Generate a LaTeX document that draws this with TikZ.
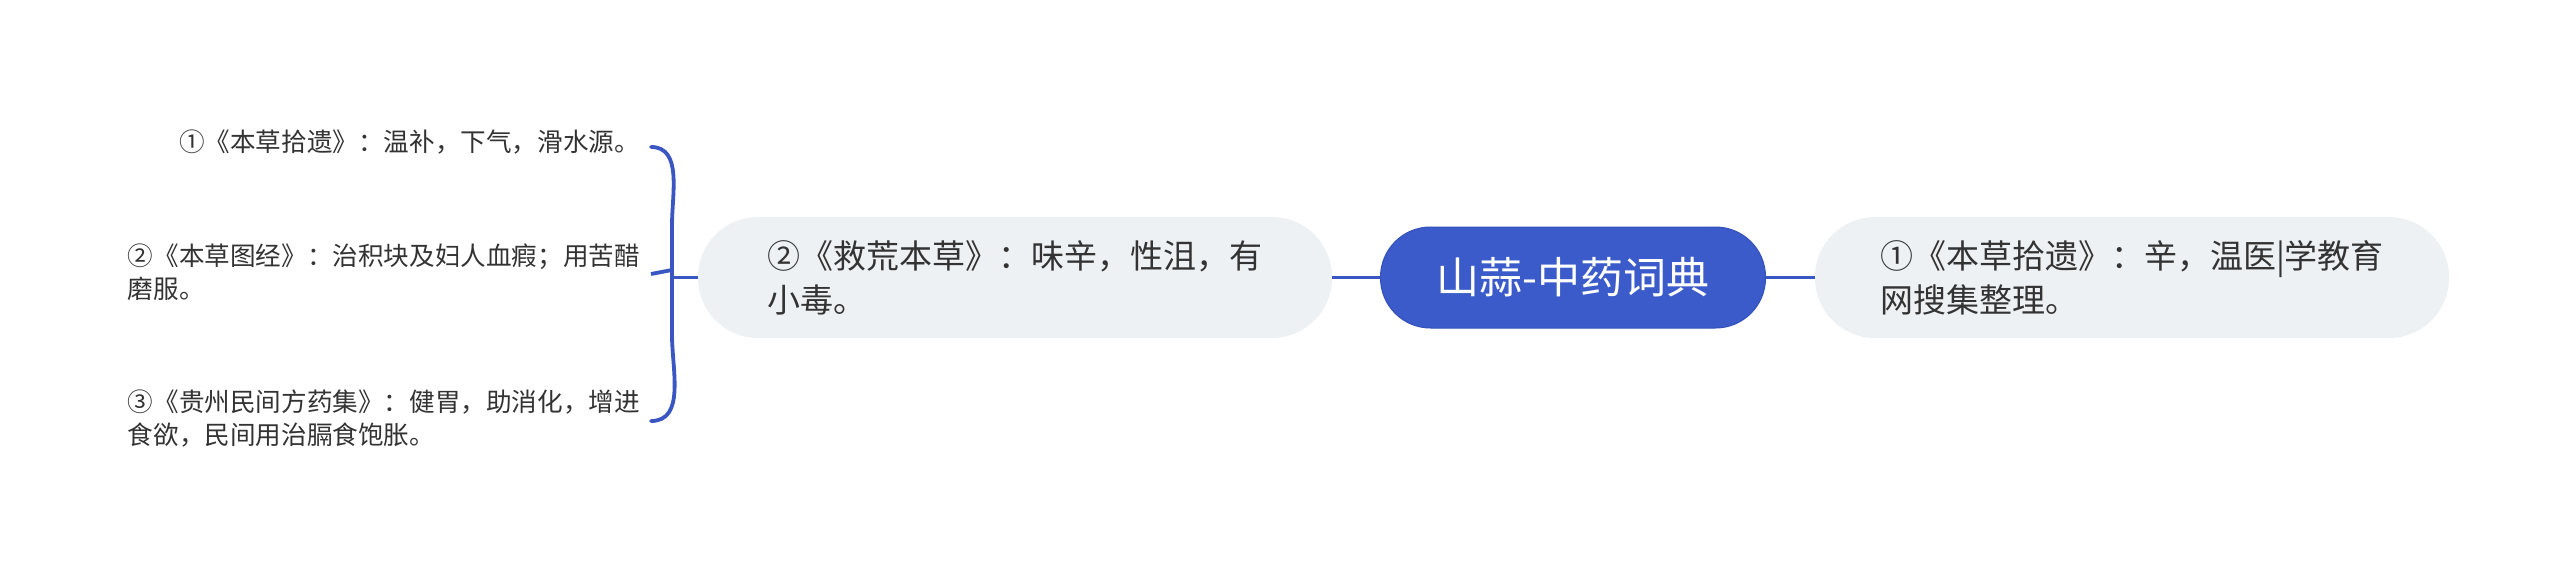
\documentclass[tikz,border=0pt]{standalone}
\usepackage{fontspec}
\newfontfamily\cjk{Noto Sans CJK SC}
\definecolor{mainblue}{HTML}{3A5BC9}
\definecolor{mainborder}{HTML}{3350B8}
\definecolor{linkblue}{HTML}{3A56C2}
\definecolor{pillgray}{HTML}{EEF1F4}
\definecolor{txt}{HTML}{333333}
\tikzset{
  rootbox/.style={draw=mainborder, line width=1pt, fill=mainblue, text=white, rounded corners=50pt,
    minimum width=385pt, minimum height=101pt, inner sep=0pt, font=\cjk\fontsize{43}{50}\selectfont},
  subbox/.style={fill=pillgray, text=txt, rounded corners=60pt, minimum width=634pt, minimum height=121pt,
    inner sep=0pt, align=left, font=\cjk\fontsize{33}{44}\selectfont},
  leaftext/.style={text=txt, anchor=east, inner sep=0pt, align=left, font=\cjk\fontsize{25.6}{33}\selectfont},
  link/.style={draw=linkblue, line width=3.8pt},
}
\begin{document}
\begin{tikzpicture}[x=1pt,y=-1pt]
\useasboundingbox (0,0) rectangle (2560,573);
\fill[white] (0,0) rectangle (2560,573);
\node[rootbox] (root) at (1573,277.5) {山蒜-中药词典};
\node[subbox] (right) at (2132,277.5) {①《本草拾遗》：辛，温医|学教育\\网搜集整理。};
\node[subbox] (left) at (1015,277.5) {②《救荒本草》：味辛，性沮，有\\小毒。};
\node[leaftext] (l1) at (640,142) {①《本草拾遗》：温补，下气，滑水源。};
\node[leaftext] (l2) at (640,272) {②《本草图经》：治积块及妇人血瘕；用苦醋\\磨服。};
\node[leaftext] (l3) at (640,419) {③《贵州民间方药集》：健胃，助消化，增进\\食欲，民间用治膈食饱胀。};
\draw[link] (root.west) -- (left.east);
\draw[link] (root.east) -- (right.west);
\coordinate (bj) at (673,277.5);
\coordinate (btop) at ([xshift=11pt,yshift=-5pt]l1.east);
\coordinate (bmid) at ([xshift=11pt,yshift=-2pt]l2.east);
\coordinate (bbot) at ([xshift=11pt,yshift=-2pt]l3.east);
\draw[link] (left.west) -- (bj);
\draw[link, line cap=round] (btop) to[out=0,in=90] (672,225) -- (672,335) to[out=-90,in=0] (bbot);
\draw[link] (bmid) -- (672,270);
\end{tikzpicture}
\end{document}
